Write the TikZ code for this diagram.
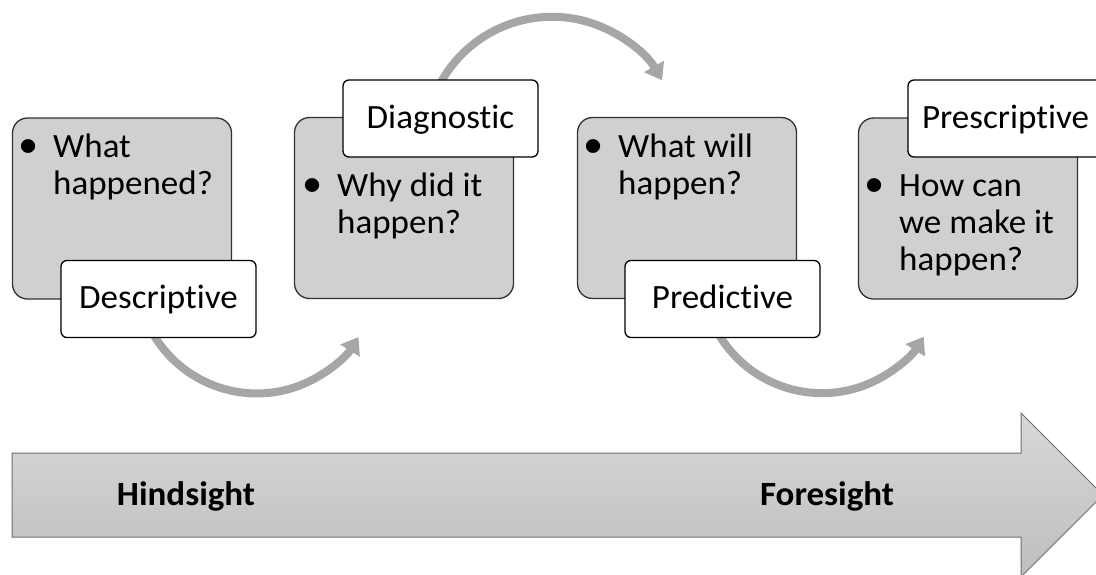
\documentclass[tikz,border=0pt]{standalone}
\usepackage{fontspec}
\setmainfont{Carlito}[Ligatures={NoCommon,NoContextual}, FakeStretch=1.03]
\usetikzlibrary{arrows.meta,backgrounds}

\definecolor{panelfill}{RGB}{208,208,208}
\definecolor{paneledge}{RGB}{50,50,50}
\definecolor{flowgray}{RGB}{166,166,166}
\definecolor{bandtop}{RGB}{216,216,216}
\definecolor{bandbottom}{RGB}{190,190,190}
\definecolor{bandedge}{RGB}{110,110,110}

% bullet hung in the left margin of a text block
\newcommand\itembullet{\leavevmode\llap{\scalebox{1.15}{\textbullet}\hspace{15pt}}}

\begin{document}
\begin{tikzpicture}[x=1pt,y=-1pt,
  bodyfont/.style={font=\fontsize{34}{37}\selectfont},
  panel/.style={draw=paneledge, line width=1.3pt, fill=panelfill,
    rounded corners=15pt, minimum width=219pt, minimum height=181pt, inner sep=0pt},
  tag/.style={bodyfont, draw=black, line width=1.3pt, fill=white,
    rounded corners=6pt, minimum width=195pt, minimum height=77pt,
    text height=22pt, text depth=3pt, inner sep=0pt},
  bullets/.style={bodyfont, anchor=base west, inner sep=0pt},
  flow/.style={draw=flowgray, line width=8pt, -{Triangle[width=22pt,length=16pt]}},
  band/.style={draw=bandedge, line width=1pt, top color=bandtop, bottom color=bandbottom},
  bandlabel/.style={font=\bfseries\fontsize{34}{37}\selectfont, anchor=base, inner sep=0pt}]

\useasboundingbox (0,0) rectangle (1096,574);
\clip (0,0) rectangle (1096,574);

% timeline band
\path[band] (12,453) -- (1021,453) -- (1021,413) -- (1103,495)
  -- (1021,577) -- (1021,537) -- (12,537) -- cycle;
\node[bandlabel] (hind) at (186,505) {Hindsight};
\node[bandlabel] (fore) at (827,505) {Foresight};

% grey panels
\node[panel] (b1) at (122,208.5) {};
\node[panel] (b2) at (404,208) {};
\node[panel] (b3) at (687,208) {};
\node[panel] (b4) at (968,208.5) {};

% questions
\node[bullets] (t1) at (53,157)
  {\parbox[t]{180pt}{\raggedright\itembullet What\\happened?}};
\node[bullets] (t2) at (337,196)
  {\parbox[t]{180pt}{\raggedright\itembullet Why did it\\happen?}};
\node[bullets] (t3) at (618,157)
  {\parbox[t]{180pt}{\raggedright\itembullet What will\\happen?}};
\node[bullets] (t4) at (899,196)
  {\parbox[t]{180pt}{\raggedright\itembullet How can\\we make it\\happen?}};

% stage tags
\node[tag] (l1) at (158.5,299) {Descriptive};
\node[tag] (l2) at (440.5,118.5) {Diagnostic};
\node[tag] (l3) at (722.5,299) {Predictive};
\node[tag] (l4) at (1005.5,118.5) {Prescriptive};

% curved arrows, tucked under the tags
\begin{scope}[on background layer]
  \fill[white] (0,0) rectangle (1096,574);
  \draw[flow] ([shift={(-10.5,-14)}]l1.south) arc[start angle=155, end angle=32, radius=120];
  \draw[flow] ([shift={(-7.8,21)}]l2.north) arc[start angle=200, end angle=330, radius=127];
  \draw[flow] ([shift={(-9.3,-14.3)}]l3.south) arc[start angle=155, end angle=32, radius=120];
\end{scope}
\end{tikzpicture}
\end{document}
